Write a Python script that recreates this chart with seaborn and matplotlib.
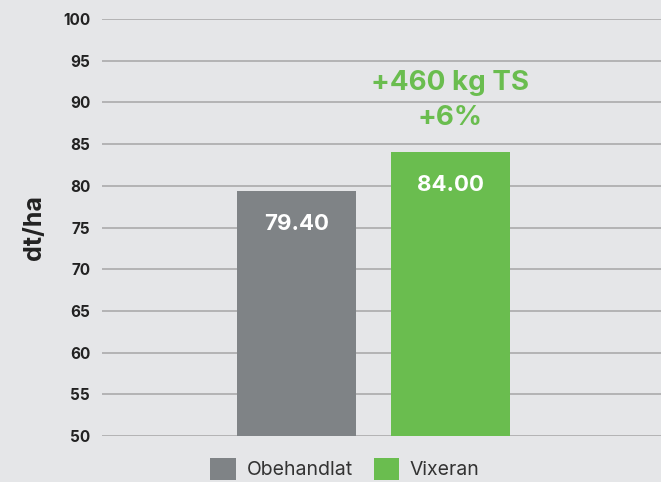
import matplotlib

matplotlib.use("Agg")

import matplotlib.pyplot as plt
import pandas as pd
import seaborn as sns
from matplotlib.patches import Patch

categories = ["Obehandlat", "Vixeran"]
yields = [79.40, 84.00]
bar_colors = ["#7f8386", "#6abd4f"]
y_ticks = list(range(50, 101, 5))
gain_text = "+460 kg TS\n+6%"

BG = "#e5e6e8"


def main() -> None:
    sns.set_theme(style="white")
    plt.rcParams["font.family"] = ["Inter", "DejaVu Sans"]

    df = pd.DataFrame({"behandling": categories, "skord": yields})

    fig = plt.figure(figsize=(6.61, 4.82), dpi=100, facecolor=BG)
    ax = fig.add_axes([102 / 661, 46 / 482, 1 - 102 / 661, 417 / 482])
    ax.set_facecolor(BG)

    sns.barplot(
        data=df, x="behandling", y="skord", hue="behandling",
        palette=bar_colors, saturation=1, width=0.77, linewidth=0,
        legend=False, ax=ax, zorder=3,
    )

    ax.set_ylim(50, 100)
    ax.set_xlim(-1.263, 2.367)
    ax.set_yticks(y_ticks)
    ax.set_yticklabels([str(t) for t in y_ticks], fontweight="bold", fontsize=11, color="#222222")
    ax.tick_params(axis="y", length=0, pad=8.5)
    ax.set_xticks([])
    ax.set_xlabel("")
    ax.set_ylabel("dt/ha", fontsize=18, fontweight="bold", color="#222222", labelpad=12)
    ax.yaxis.grid(True, color="#ababab", linewidth=1.2)
    ax.set_axisbelow(True)
    for s in ax.spines.values():
        s.set_visible(False)

    for container in ax.containers:
        ax.bar_label(container, fmt="%.2f", label_type="edge", padding=-31,
                     color="white", fontsize=16, fontweight="bold")

    ax.text(1, 90.2, gain_text, ha="center", va="center", color="#6abd4f",
            fontsize=20, fontweight="bold", linespacing=1.45)

    handles = [Patch(facecolor=c, edgecolor="none") for c in bar_colors]
    fig.legend(handles, categories, loc="center", bbox_to_anchor=(0.522, 0.027),
               ncol=2, frameon=False, fontsize=14, handlelength=1.3, handleheight=1.3,
               columnspacing=1.1, handletextpad=0.55, labelcolor="#333333")

    fig.savefig("out.png", dpi=100, facecolor=BG)
    plt.close(fig)


if __name__ == "__main__":
    main()
